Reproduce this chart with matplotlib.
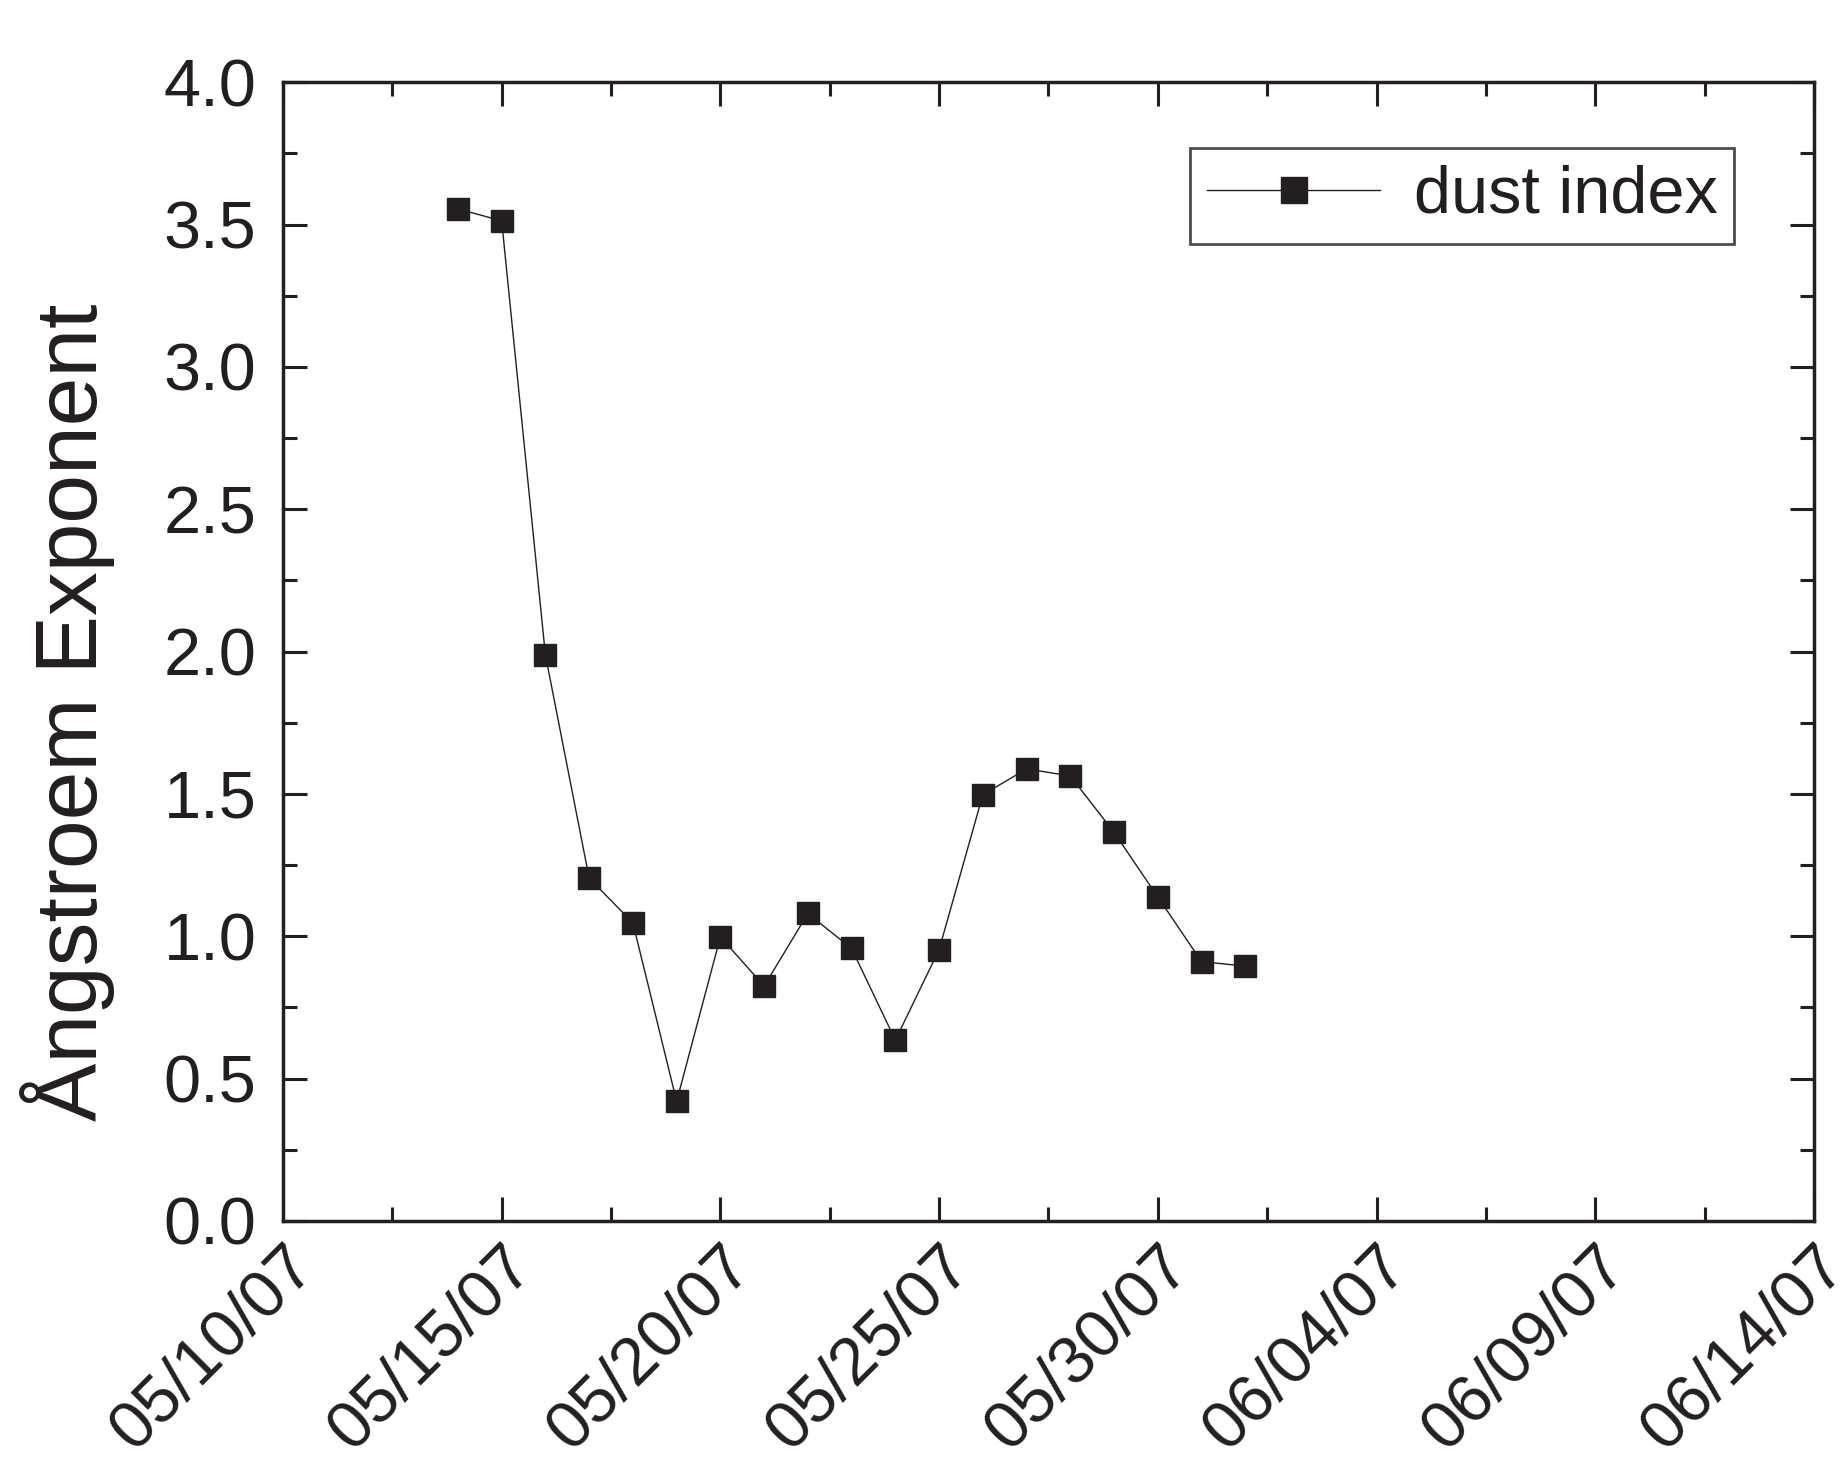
import matplotlib
matplotlib.use("Agg")
import matplotlib.pyplot as plt
import matplotlib.dates as mdates
from matplotlib.ticker import AutoMinorLocator, MultipleLocator
import datetime as dt

plt.rcParams['font.family'] = ['Liberation Sans', 'DejaVu Sans']

# Data
dates = ["2007-05-14", "2007-05-15", "2007-05-16", "2007-05-17", "2007-05-18",
         "2007-05-19", "2007-05-20", "2007-05-21", "2007-05-22", "2007-05-23",
         "2007-05-24", "2007-05-25", "2007-05-26", "2007-05-27", "2007-05-28",
         "2007-05-29", "2007-05-30", "2007-05-31", "2007-06-01"]
dust_index = [3.555, 3.513, 1.988, 1.204, 1.047, 0.42, 0.998, 0.825, 1.08, 0.957,
              0.635, 0.953, 1.497, 1.588, 1.563, 1.365, 1.138, 0.911, 0.895]
xtick_dates = ["2007-05-10", "2007-05-15", "2007-05-20", "2007-05-25", "2007-05-30",
               "2007-06-04", "2007-06-09", "2007-06-14"]

C = '#231f20'
x = [dt.datetime.strptime(d, "%Y-%m-%d") for d in dates]
xt = [dt.datetime.strptime(d, "%Y-%m-%d") for d in xtick_dates]

fig = plt.figure(figsize=(18.41, 14.58), dpi=100)
ax = fig.add_axes([0.1537, 0.1626, 0.8316, 0.781])

ax.plot(x, dust_index, color=C, lw=1.0, marker='s', ms=15.5, mfc=C, mec=C,
        label='dust index')

ax.set_xlim(xt[0], xt[-1])
ax.set_ylim(0, 4.0)
ax.set_xticks(xt)
ax.xaxis.set_major_formatter(mdates.DateFormatter('%m/%d/%y'))
ax.xaxis.set_minor_locator(AutoMinorLocator(2))
ax.yaxis.set_major_locator(MultipleLocator(0.5))
ax.yaxis.set_minor_locator(AutoMinorLocator(2))

for s in ax.spines.values():
    s.set_linewidth(2.5)
    s.set_color(C)

ax.tick_params(which='both', direction='in', top=True, right=True, color=C, width=2.2)
ax.tick_params(which='major', length=17, labelsize=48, labelcolor=C)
ax.tick_params(axis='y', which='major', pad=19)
ax.tick_params(axis='x', which='major', pad=10)
ax.tick_params(which='minor', length=10)
for lab in ax.get_xticklabels():
    lab.set_rotation(45)
    lab.set_ha('right')
    lab.set_va('top')
    lab.set_rotation_mode('anchor')

ax.set_ylabel('Ångstroem Exponent', fontsize=63, color=C)
ax.yaxis.set_label_coords(-0.110, 0.447)

leg = ax.legend(loc='upper right', fontsize=48, frameon=True, fancybox=False,
                edgecolor=C, handlelength=2.6, borderpad=0.25, borderaxespad=0,
                bbox_to_anchor=(0.948, 0.942), handletextpad=0.5, markerscale=1.25)
leg.get_frame().set_linewidth(2)
for t in leg.get_texts():
    t.set_color(C)

fig.savefig('out.png', dpi=100)
